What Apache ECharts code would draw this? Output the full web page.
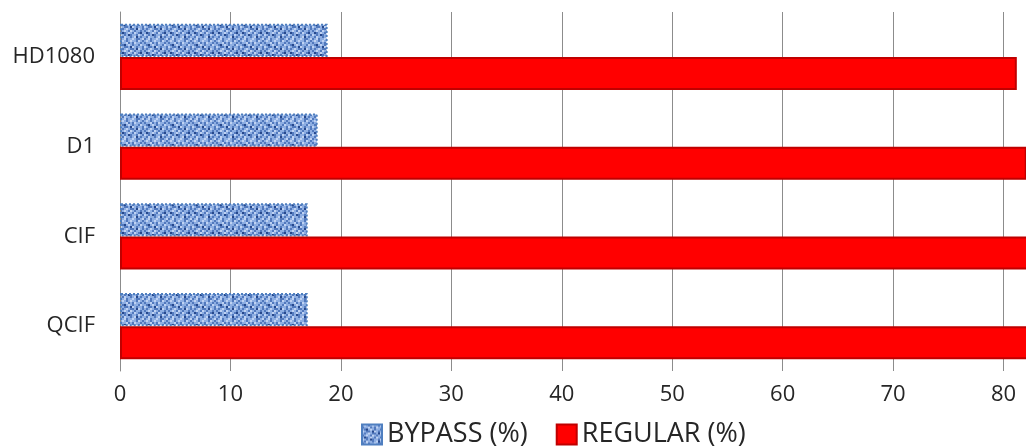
<!DOCTYPE html>
<html>
<head>
<meta charset="utf-8">
<script src="https://cdn.jsdelivr.net/npm/echarts@6/dist/echarts.min.js"></script>
<style>
  html, body { margin: 0; padding: 0; background: #fff; overflow: hidden; width: 1026px; height: 448px; }
  /* The plot runs on past the right edge of the window, to 90 */
  #chart { width: 1114px; height: 448px; }
</style>
</head>
<body>
<div id="chart"></div>
<script>
// Share of processing time per video format
const categories = ['QCIF', 'CIF', 'D1', 'HD1080'];
const bypassPct = [17.0, 17.0, 17.9, 18.8];
const regularPct = [83.0, 83.0, 82.1, 81.2];
const seriesNames = ['BYPASS (%)', 'REGULAR (%)'];

// Mottled blue texture tile for the bypass bars
function makeTexture() {
  const tile = [
    'acabacaabcab',
    'baacbabcaaba',
    'abdacabaabca',
    'cabbadcabaab',
    'abacabbadcab',
    'bacabcabaaba',
    'adbacabcabda',
    'cabadbaabcab',
    'abcaabacdaba',
    'bacbaacabbac'
  ];
  const palette = { a: '#8eaee2', b: '#5279bd', c: '#bfd2f2', d: '#27488c' };
  const size = 2;
  const cv = document.createElement('canvas');
  cv.width = tile[0].length * size;
  cv.height = tile.length * size;
  const ctx = cv.getContext('2d');
  tile.forEach((row, y) => {
    for (let x = 0; x < row.length; x++) {
      ctx.fillStyle = palette[row[x]];
      ctx.fillRect(x * size, y * size, size, size);
    }
  });
  return cv;
}

const chart = echarts.init(document.getElementById('chart'));
const textColor = '#262626';
const font = 'Open Sans';
chart.setOption({
  animation: false,
  backgroundColor: '#ffffff',
  grid: { left: 120, top: 12, right: 0, bottom: 77, containLabel: false, outerBoundsMode: 'none' },
  xAxis: {
    type: 'value',
    min: 0,
    max: 90,
    interval: 10,
    axisLine: { show: false },
    axisTick: { show: false },
    axisLabel: { color: textColor, fontFamily: font, fontSize: 22, margin: 13 },
    splitLine: { show: true, lineStyle: { color: '#8c8c8c', width: 1 } }
  },
  yAxis: {
    type: 'category',
    data: categories,
    axisLine: { show: true, lineStyle: { color: '#8c8c8c' } },
    axisTick: { show: false },
    axisLabel: { color: textColor, fontFamily: font, fontSize: 22, margin: 25 }
  },
  legend: {
    data: seriesNames,
    top: 416,
    left: 356,
    icon: 'rect',
    itemWidth: 20,
    itemHeight: 20,
    itemGap: 28,
    textStyle: { color: textColor, fontFamily: font, fontSize: 27 }
  },
  series: [
    {
      name: seriesNames[0],
      type: 'bar',
      data: bypassPct,
      barGap: '0%',
      barCategoryGap: '26%',
      itemStyle: {
        color: { image: makeTexture(), repeat: 'repeat' },
        borderColor: '#4f7fc0',
        borderWidth: 2,
        borderType: 'dotted'
      }
    },
    {
      name: seriesNames[1],
      type: 'bar',
      data: regularPct,
      barGap: '0%',
      barCategoryGap: '26%',
      itemStyle: { color: '#ff0000', borderColor: '#c00000', borderWidth: 2 }
    }
  ]
});
</script>
</body>
</html>
